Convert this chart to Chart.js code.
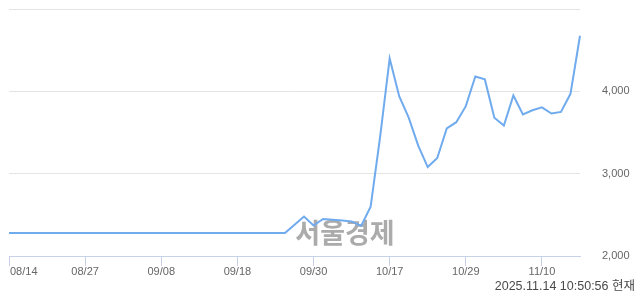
<!DOCTYPE html>
<html>
<head>
<meta charset="utf-8">
<script src="https://cdn.jsdelivr.net/npm/chart.js@4/dist/chart.umd.min.js"></script>
<style>
  html, body { margin: 0; padding: 0; background: #fff; }
  #wrap { width: 640px; height: 294px; position: relative; }
</style>
</head>
<body>
<div id="wrap"><canvas id="c" width="640" height="294"></canvas></div>
<script>
// Trading dates (categories)
const dates = [
  '08/14','08/18','08/19','08/20','08/21','08/22','08/25','08/26','08/27',
  '08/28','08/29','09/01','09/02','09/03','09/04','09/05','09/08',
  '09/09','09/10','09/11','09/12','09/15','09/16','09/17','09/18',
  '09/19','09/22','09/23','09/24','09/25','09/26','09/29','09/30',
  '10/01','10/02','10/10','10/13','10/14','10/15','10/16','10/17',
  '10/20','10/21','10/22','10/23','10/24','10/27','10/28','10/29',
  '10/30','10/31','11/03','11/04','11/05','11/06','11/07','11/10',
  '11/11','11/12','11/13','11/14'
];
// Price series
const prices = [
  2280,2280,2280,2280,2280,2280,2280,2280,2280,2280,
  2280,2280,2280,2280,2280,2280,2280,2280,2280,2280,
  2280,2280,2280,2280,2280,2280,2280,2280,2280,2280,
  2380,2480,2370,2450,2440,2430,2420,2365,2600,3450,
  4400,3940,3680,3340,3080,3190,3550,3625,3820,4180,
  4145,3680,3585,3950,3720,3770,3805,3730,3750,3970,
  4675
];
// Y tick values
const yTicks = [2000, 3000, 4000, 5000];
const yHidden = [5000];
const labelEvery = 8;
const stamp = '2025.11.14 10:50:56 현재';
const watermark = '서울경제';

const FONT = "'Liberation Sans', 'Noto Sans CJK KR', sans-serif";
const AXIS = '#c7d2e8';

const extras = {
  id: 'extras',
  beforeDraw(chart) {
    const xs = chart.scales.x;
    const items = xs.getLabelItems(chart.chartArea);
    if (items && items[0]) {
      items[0].options.textAlign = 'left';
      items[0].options.translation[0] = xs.getPixelForTick(0) + 1;
    }
  },
  beforeDatasetsDraw(chart) {
    const ctx = chart.ctx;
    ctx.save();
    ctx.font = "bold 27px 'Noto Sans CJK KR', sans-serif";
    ctx.fillStyle = 'rgba(150,150,150,0.8)';
    ctx.textAlign = 'center';
    ctx.textBaseline = 'middle';
    ctx.fillText(watermark, 345, 233);
    ctx.restore();
  },
  afterDraw(chart) {
    const ctx = chart.ctx;
    ctx.save();
    ctx.font = "12.5px " + FONT;
    ctx.fillStyle = '#4a4a4a';
    ctx.textAlign = 'right';
    ctx.textBaseline = 'middle';
    ctx.fillText(stamp, 635, 287);
    ctx.restore();
  }
};

new Chart(document.getElementById('c'), {
  type: 'line',
  data: {
    labels: dates,
    datasets: [{
      data: prices,
      borderColor: '#70abee',
      borderWidth: 2,
      pointRadius: 0,
      tension: 0,
      fill: false
    }]
  },
  options: {
    responsive: false,
    animation: false,
    devicePixelRatio: 1,
    layout: { autoPadding: false, padding: { left: 9, top: 9, right: 0, bottom: 0 } },
    plugins: { legend: { display: false }, tooltip: { enabled: false }, title: { display: false } },
    scales: {
      x: {
        type: 'category',
        offset: false,
        afterFit(s) { s.height = 38; s.paddingLeft = 0; s.paddingRight = 0; },
        border: { display: true, color: AXIS, width: 1 },
        grid: {
          drawOnChartArea: false,
          drawTicks: true,
          tickLength: 10,
          color: (c) => (c.index % labelEvery === 0 && c.index < 60) ? AXIS : 'rgba(0,0,0,0)',
          tickColor: (c) => (c.index % labelEvery === 0 && c.index < 60) ? AXIS : 'rgba(0,0,0,0)'
        },
        ticks: {
          autoSkip: false,
          maxRotation: 0,
          padding: -1,
          color: '#666',
          font: { size: 11, family: FONT },
          callback(v, i) { return (i % labelEvery === 0 && i < 60) ? dates[i] : ''; }
        }
      },
      y: {
        position: 'right',
        min: 2000,
        max: 5000,
        afterFit(s) { s.width = 60; s.paddingTop = 0; s.paddingBottom = 0; },
        afterBuildTicks(s) { s.ticks = yTicks.map(v => ({ value: v })); },
        border: { display: false },
        grid: {
          drawTicks: false,
          color: (c) => (c.tick && c.tick.value === 2000) ? 'rgba(0,0,0,0)' : '#e4e4e4'
        },
        ticks: {
          padding: 22,
          color: '#666',
          font: { size: 11, family: FONT },
          callback(v) { return yHidden.includes(v) ? '' : v.toLocaleString('en-US'); }
        }
      }
    }
  },
  plugins: [extras]
});
</script>
</body>
</html>
